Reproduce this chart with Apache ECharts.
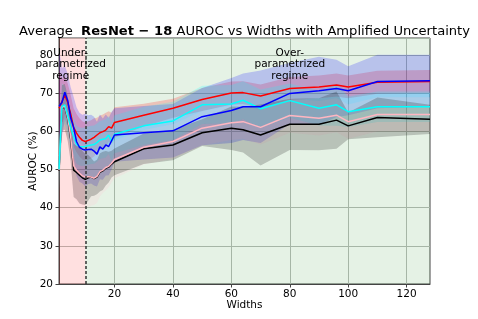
<!DOCTYPE html>
<html>
<head>
<meta charset="utf-8">
<script src="https://cdn.jsdelivr.net/npm/echarts@6/dist/echarts.min.js"></script>
<style>html,body{margin:0;padding:0;background:#fff}#c{width:478px;height:319px}</style>
</head>
<body>
<div id="c"></div>
<script>
const widths = [1,2,3,4,5,6,7,8,9,10,11,12,13,14,15,16,17,18,19,20,30,40,50,60,64,70,80,90,96,100,110,128];
const redMean   = [66,67.7,69.4,67.5,64.5,61,59.5,58.4,57.6,57.3,57.6,57.9,58.4,59,59.6,59.9,60.3,61.2,60.8,62.3,64.2,66.0,68.3,70.0,70.1,69.2,71.2,71.6,72.1,71.6,72.8,73.0];
const blueMean  = [66.5,67.5,70.2,68,63.5,61,57.3,55.8,55.3,55.1,55.2,55.3,54.8,54.0,55.9,55.3,56.4,56,57.5,59.0,59.6,60.1,63.8,65.4,66.4,66.4,69.9,70.6,71.2,70.6,73.0,73.2];
const cyanMean  = [50,66.5,66.9,64,61,58.6,56.5,56,55.9,56,56.2,56.4,56.5,57,57.7,57.9,58.1,59,57.3,59.2,61.4,62.7,66.9,67.1,68.1,65.9,68.0,66.0,66.9,65.1,66.4,66.4];
const pinkMean  = [49.8,66.2,66.6,63.6,58.5,51,49.8,49,48.3,48.1,48.1,48.0,47.7,48.2,49.4,49.8,50.5,50.8,51.6,52.6,55.8,57.3,60.8,62.2,62.5,61.0,64.1,63.4,64.2,62.5,64.4,64.4];
const blackMean = [49.6,66.0,66.4,63.3,58.0,49.8,49.2,48.5,47.8,47.4,47.8,48.0,47.6,48,49.2,49.6,50.3,50.6,51.4,52.0,55.4,56.4,59.6,60.8,60.4,59.0,61.8,61.8,62.9,61.4,63.6,63.1];
const redStd   = [10,6,5,5,5,5,5,5,5,5,5,5,5,4.5,4.5,4.5,4.5,4,4,4,3,2.5,3,3,3,3,3,3,3,3,3,3];
const blueStd  = [15,9,7,7,8,8,9,9,9,9.5,9,9,9,8.5,8.5,8,8,7.5,7.5,7,7,7,7.5,8.5,8.7,9.5,8,8.9,7.5,6.4,7,6.8];
const cyanStd  = [6,6,5,5,5,5,5,5,5,5,5,5,5,5,5,5,5,5,5,5,5,5,5,5,5,5,4.5,4.5,5.5,4,4,4];
const pinkStd  = [5,6,6,6,7,8,8,8,8,8,8,7.5,7,7,6.5,6,6,5.5,5,5,4.5,4.5,4.5,4.5,4.5,4.5,4.5,4.5,4.5,4.5,4.5,4.5];
const blackStd = [5,6,6,6,6,7,7,7.4,7,6.7,6,5,4.5,4.5,5,5,4.5,4,3.5,3.5,4,4,3.5,5.7,6,8,6.7,6.8,7.5,3.5,5.2,3.8];
const xTicks = [20,40,60,80,100,120];
const regimeSplit = 10;
const titleParts = ['Average  ', 'ResNet − 18', ' AUROC vs Widths with Amplified Uncertainty'];
const underText = 'Under-\nparametrized\nregime';
const overText = 'Over-\nparametrized\nregime';
const underPos = [5, 77.4];
const overPos = [80, 77.4];

const FONT = 'DejaVu Sans';
const chart = echarts.init(document.getElementById('c'), null, {renderer: 'canvas'});

function band(color, mean, std) {
  const pts = widths.map((w, i) => [w, mean[i] - std[i], mean[i] + std[i]]);
  return {
    type: 'custom', silent: true, clip: true, z: 2,
    encode: {x: 0, y: [1, 2]},
    data: pts,
    renderItem: function (params, api) {
      if (params.dataIndex !== 0) return null;
      const up = pts.map(p => api.coord([p[0], p[2]]));
      const lo = pts.map(p => api.coord([p[0], p[1]])).reverse();
      return {type: 'polygon', shape: {points: up.concat(lo)}, style: {fill: color, opacity: 0.2}};
    }
  };
}
function line(color, mean, z) {
  return {
    type: 'line', silent: true, z: z, showSymbol: false, symbol: 'none',
    data: widths.map((w, i) => [w, mean[i]]),
    lineStyle: {color: color, width: 1.5}, itemStyle: {color: color}
  };
}

const option = {
  animation: false,
  grid: {left: 59, right: 48, top: 38, bottom: 35, show: true, borderColor: '#444', borderWidth: 1, backgroundColor: 'transparent'},
  xAxis: {
    type: 'value', min: 1, max: 128,
    name: 'Widths', nameLocation: 'middle', nameGap: 16, nameMoveOverlap: false,
    nameTextStyle: {fontFamily: FONT, fontSize: 10.5, color: '#000'},
    axisLine: {show: true, lineStyle: {color: '#444'}},
    axisTick: {show: true, length: 3.5, inside: false, lineStyle: {color: '#444'}, customValues: xTicks},
    axisLabel: {fontFamily: FONT, fontSize: 10.5, color: '#000', margin: 5, customValues: xTicks},
    splitLine: {show: true, lineStyle: {color: '#b9bdb9', width: 1}}
  },
  yAxis: {
    type: 'value', min: 20, max: 84.4, interval: 10,
    name: 'AUROC (%)', nameLocation: 'middle', nameGap: 20, nameRotate: 90, nameMoveOverlap: false,
    nameTextStyle: {fontFamily: FONT, fontSize: 10.5, color: '#000'},
    axisLine: {show: true, lineStyle: {color: '#444'}},
    axisTick: {show: true, length: 3.5, lineStyle: {color: '#444'}},
    axisLabel: {fontFamily: FONT, fontSize: 10.5, color: '#000', margin: 6, showMaxLabel: false},
    splitLine: {show: true, lineStyle: {color: '#b9bdb9', width: 1}}
  },
  series: [
    {
      type: 'line', data: [], silent: true, z: 0,
      markArea: {
        silent: true,
        data: [
          [{xAxis: 1, itemStyle: {color: 'rgba(255,0,0,0.12)'}}, {xAxis: regimeSplit}],
          [{xAxis: regimeSplit, itemStyle: {color: 'rgba(0,128,0,0.1)'}}, {xAxis: 128}]
        ]
      }
    },
    band('#ff0000', redMean, redStd),
    band('#0000ff', blueMean, blueStd),
    band('#00ffff', cyanMean, cyanStd),
    band('#ffc0cb', pinkMean, pinkStd),
    band('#000000', blackMean, blackStd),
    line('#000000', blackMean, 3),
    line('#ffb6c1', pinkMean, 4),
    line('#00ffff', cyanMean, 5),
    line('#ff0000', redMean, 6),
    line('#0000ff', blueMean, 7),
    {
      type: 'line', data: [], silent: true, z: 8,
      markLine: {
        silent: true, symbol: 'none', label: {show: false},
        lineStyle: {color: '#333', type: [3, 2], width: 1.5},
        data: [{xAxis: regimeSplit}]
      }
    }
  ]
};
chart.setOption(option);

const gridRect = chart.getModel().getComponent('grid').coordinateSystem.getRect();
const pu = chart.convertToPixel({gridIndex: 0}, underPos);
const po = chart.convertToPixel({gridIndex: 0}, overPos);
chart.setOption({
  graphic: [
    {
      type: 'text', x: gridRect.x + gridRect.width / 2, y: 32, z: 10,
      style: {
        text: '{n|' + titleParts[0] + '}{b|' + titleParts[1] + '}{n|' + titleParts[2] + '}',
        align: 'center', verticalAlign: 'middle', fill: '#000',
        rich: {
          n: {fontFamily: FONT, fontSize: 13.1, fontWeight: 'normal', fill: '#000'},
          b: {fontFamily: FONT, fontSize: 13.1, fontWeight: 'bold', fill: '#000'}
        }
      }
    },
    {
      type: 'text', x: pu[0], y: pu[1], z: 10,
      style: {text: underText, align: 'center', verticalAlign: 'middle', fontFamily: FONT, fontSize: 10.5, lineHeight: 11.7, fill: '#000'}
    },
    {
      type: 'text', x: po[0], y: po[1], z: 10,
      style: {text: overText, align: 'center', verticalAlign: 'middle', fontFamily: FONT, fontSize: 10.5, lineHeight: 11.7, fill: '#000'}
    }
  ]
});
</script>
</body>
</html>
